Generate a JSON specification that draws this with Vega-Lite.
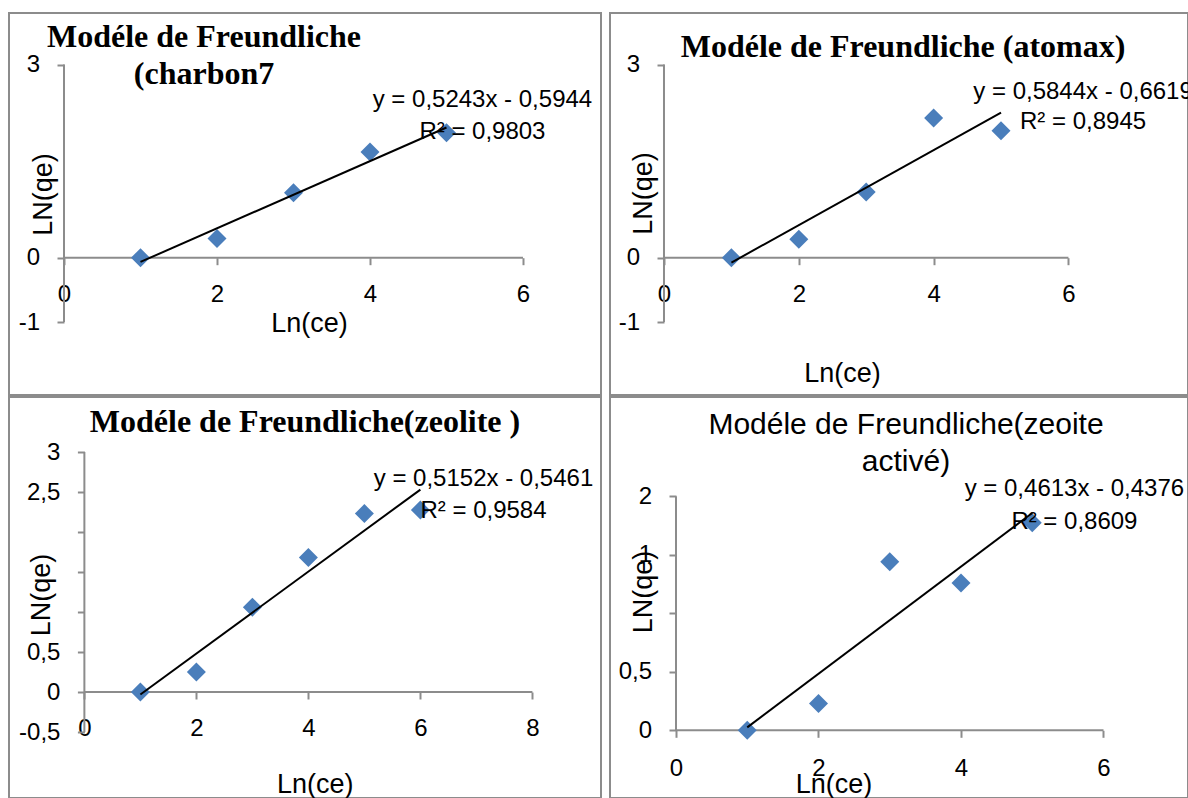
{
  "$schema": "https://vega.github.io/schema/vega-lite/v6.json",
  "padding": {"left": 8, "top": 12, "right": 0, "bottom": 0},
  "background": "white",
  "datasets": {
    "charbon7": [{"x": 1, "y": 0}, {"x": 2, "y": 0.30}, {"x": 3, "y": 1.01}, {"x": 4, "y": 1.64}, {"x": 5, "y": 1.94}],
    "atomax": [{"x": 1, "y": 0}, {"x": 2, "y": 0.285}, {"x": 3, "y": 1.02}, {"x": 4, "y": 2.17}, {"x": 5, "y": 1.97}],
    "zeolite": [{"x": 1, "y": 0}, {"x": 2, "y": 0.25}, {"x": 3, "y": 1.06}, {"x": 4, "y": 1.68}, {"x": 5, "y": 2.23}, {"x": 6, "y": 2.275}],
    "zeolite_active": [{"x": 1, "y": 0}, {"x": 2, "y": 0.23}, {"x": 3, "y": 1.44}, {"x": 4, "y": 1.26}, {"x": 5, "y": 1.775}],
    "one": [{}]
  },
  "bounds": "flush",
  "columns": 2,
  "spacing": {"row": 2, "column": 9},
  "concat": [
    {
      "width": 592, "height": 382,
      "title": {"text": ["Modéle de Freundliche", "(charbon7"], "font": "Liberation Serif", "fontWeight": "bold", "fontSize": 32, "lineHeight": 37, "anchor": "start", "align": "center", "dx": 195, "frame": "group", "offset": -103, "baseline": "alphabetic", "color": "black"},
      "layer": [
        {"data": {"name": "one"}, "mark": {"type": "rule", "color": "#8c8c8c", "strokeWidth": 2}, "encoding": {"x": {"datum": 0, "type": "quantitative"}, "y": {"datum": -1, "type": "quantitative"}, "y2": {"datum": 3}}},
        {"data": {"name": "one"}, "mark": {"type": "rule", "color": "#8c8c8c", "strokeWidth": 2}, "encoding": {"x": {"datum": 0, "type": "quantitative"}, "x2": {"datum": 6}, "y": {"datum": 0, "type": "quantitative"}}},
        {"data": {"name": "charbon7"}, "mark": {"type": "point", "shape": "diamond", "filled": true, "size": 361, "color": "#4a7ebb", "opacity": 1},
         "encoding": {
           "x": {"field": "x", "type": "quantitative", "scale": {"domain": [-0.719, 7.020], "nice": false, "zero": false},
                 "axis": {"values": [0, 2, 4, 6], "offset": -137.3, "title": "Ln(ce)", "titleX": 300, "titleY": 73.3, "labelPadding": 17.5, "labelExpr": "replace('' + datum.value, '.', ',')"}},
           "y": {"field": "y", "type": "quantitative", "scale": {"domain": [-2.132, 3.800], "nice": false, "zero": false},
                 "axis": {"values": [-1, 0, 3], "offset": -55, "title": "LN(qe)", "titleX": -12.4, "titleY": 181, "labelPadding": 17.5, "labelExpr": "replace('' + datum.value, '.', ',')"}}
         }},
        {"data": {"name": "charbon7"}, "transform": [{"regression": "y", "on": "x"}], "mark": {"type": "line", "color": "black", "strokeWidth": 2},
         "encoding": {"x": {"field": "x", "type": "quantitative"}, "y": {"field": "y", "type": "quantitative"}}},
        {"data": {"name": "one"}, "mark": {"type": "text", "text": ["y = 0,5243x - 0,5944", "R² = 0,9803"], "font": "Liberation Sans", "fontSize": 24, "align": "center", "baseline": "alphabetic", "lineHeight": 32, "color": "black"},
         "encoding": {"x": {"datum": 5.47, "type": "quantitative"}, "y": {"datum": 2.34, "type": "quantitative"}}}
      ]
    },
    {
      "width": 578, "height": 382,
      "title": {"text": "Modéle de Freundliche (atomax)", "font": "Liberation Serif", "fontWeight": "bold", "fontSize": 32, "anchor": "middle", "dx": 4, "frame": "group", "offset": -76, "baseline": "alphabetic", "color": "black"},
      "layer": [
        {"data": {"name": "one"}, "mark": {"type": "rule", "color": "#8c8c8c", "strokeWidth": 2}, "encoding": {"x": {"datum": 0, "type": "quantitative"}, "y": {"datum": -1, "type": "quantitative"}, "y2": {"datum": 3}}},
        {"data": {"name": "one"}, "mark": {"type": "rule", "color": "#8c8c8c", "strokeWidth": 2}, "encoding": {"x": {"datum": 0, "type": "quantitative"}, "x2": {"datum": 6}, "y": {"datum": 0, "type": "quantitative"}}},
        {"data": {"name": "atomax"}, "mark": {"type": "point", "shape": "diamond", "filled": true, "size": 361, "color": "#4a7ebb", "opacity": 1},
         "encoding": {
           "x": {"field": "x", "type": "quantitative", "scale": {"domain": [-0.801, 7.774], "nice": false, "zero": false},
                 "axis": {"values": [0, 2, 4, 6], "offset": -137.3, "title": "Ln(ce)", "titleX": 232, "titleY": 123.3, "labelPadding": 17.5, "labelExpr": "replace('' + datum.value, '.', ',')"}},
           "y": {"field": "y", "type": "quantitative", "scale": {"domain": [-2.132, 3.800], "nice": false, "zero": false},
                 "axis": {"values": [-1, 0, 3], "offset": -54, "title": "LN(qe)", "titleX": -13, "titleY": 180, "labelPadding": 17.5, "labelExpr": "replace('' + datum.value, '.', ',')"}}
         }},
        {"data": {"name": "atomax"}, "transform": [{"regression": "y", "on": "x"}], "mark": {"type": "line", "color": "black", "strokeWidth": 2},
         "encoding": {"x": {"field": "x", "type": "quantitative"}, "y": {"field": "y", "type": "quantitative"}}},
        {"data": {"name": "one"}, "mark": {"type": "text", "text": ["y = 0,5844x - 0,6619", "R² = 0,8945"], "font": "Liberation Sans", "fontSize": 24, "align": "center", "baseline": "alphabetic", "lineHeight": 30, "color": "black", "clip": true},
         "encoding": {"x": {"datum": 6.217, "type": "quantitative"}, "y": {"datum": 2.464, "type": "quantitative"}}}
      ]
    },
    {
      "width": 592, "height": 401,
      "title": {"text": "Modéle de Freundliche(zeolite )", "font": "Liberation Serif", "fontWeight": "bold", "fontSize": 32, "anchor": "middle", "frame": "group", "offset": -67, "baseline": "alphabetic", "color": "black"},
      "layer": [
        {"data": {"name": "one"}, "mark": {"type": "rule", "color": "#8c8c8c", "strokeWidth": 2}, "encoding": {"x": {"datum": 0, "type": "quantitative"}, "y": {"datum": -0.5, "type": "quantitative"}, "y2": {"datum": 3}}},
        {"data": {"name": "one"}, "mark": {"type": "rule", "color": "#8c8c8c", "strokeWidth": 2}, "encoding": {"x": {"datum": 0, "type": "quantitative"}, "x2": {"datum": 8}, "y": {"datum": 0, "type": "quantitative"}}},
        {"data": {"name": "zeolite"}, "mark": {"type": "point", "shape": "diamond", "filled": true, "size": 361, "color": "#4a7ebb", "opacity": 1},
         "encoding": {
           "x": {"field": "x", "type": "quantitative", "scale": {"domain": [-1.346, 9.225], "nice": false, "zero": false},
                 "axis": {"values": [0, 2, 4, 6, 8], "offset": -106, "title": "Ln(ce)", "titleX": 305.8, "titleY": 100, "labelPadding": 17.2, "labelExpr": "replace('' + datum.value, '.', ',')"}},
           "y": {"field": "y", "type": "quantitative", "scale": {"domain": [-1.325, 3.6875], "nice": false, "zero": false},
                 "axis": {"values": [-0.5, 0, 0.5, 1, 1.5, 2, 2.5, 3], "offset": -75.4, "title": "LN(qe)", "titleX": -34.7, "titleY": 197.5, "labelPadding": 17.5, "labelExpr": "datum.value == 1 || datum.value == 1.5 || datum.value == 2 ? '' : replace('' + datum.value, '.', ',')"}}
         }},
        {"data": {"name": "zeolite"}, "transform": [{"regression": "y", "on": "x"}], "mark": {"type": "line", "color": "black", "strokeWidth": 2},
         "encoding": {"x": {"field": "x", "type": "quantitative"}, "y": {"field": "y", "type": "quantitative"}}},
        {"data": {"name": "one"}, "mark": {"type": "text", "text": ["y = 0,5152x - 0,5461", "R² = 0,9584"], "font": "Liberation Sans", "fontSize": 24, "align": "center", "baseline": "alphabetic", "lineHeight": 32, "color": "black"},
         "encoding": {"x": {"datum": 7.127, "type": "quantitative"}, "y": {"datum": 2.575, "type": "quantitative"}}}
      ]
    },
    {
      "width": 578, "height": 401,
      "title": {"text": ["Modéle de Freundliche(zeoite", "activé)"], "font": "Liberation Sans", "fontWeight": "normal", "fontSize": 30, "lineHeight": 37, "anchor": "middle", "dx": 7, "frame": "group", "offset": -103.7, "baseline": "alphabetic", "color": "black"},
      "layer": [
        {"data": {"name": "one"}, "mark": {"type": "rule", "color": "#8c8c8c", "strokeWidth": 2}, "encoding": {"x": {"datum": 0, "type": "quantitative"}, "y": {"datum": 0, "type": "quantitative"}, "y2": {"datum": 2}}},
        {"data": {"name": "one"}, "mark": {"type": "rule", "color": "#8c8c8c", "strokeWidth": 2}, "encoding": {"x": {"datum": 0, "type": "quantitative"}, "x2": {"datum": 6}, "y": {"datum": 0, "type": "quantitative"}}},
        {"data": {"name": "zeolite_active"}, "mark": {"type": "point", "shape": "diamond", "filled": true, "size": 361, "color": "#4a7ebb", "opacity": 1},
         "encoding": {
           "x": {"field": "x", "type": "quantitative", "scale": {"domain": [-0.926, 7.186], "nice": false, "zero": false},
                 "axis": {"values": [0, 2, 4, 6], "offset": -67.7, "title": "Ln(ce)", "titleX": 223.5, "titleY": 61.7, "labelPadding": 18.7, "labelExpr": "replace('' + datum.value, '.', ',')"}},
           "y": {"field": "y", "type": "quantitative", "scale": {"domain": [-0.5786, 2.849], "nice": false, "zero": false},
                 "axis": {"values": [0, 0.5, 1, 1.5, 2], "offset": -66, "title": "LN(qe)", "titleX": -25, "titleY": 194.5, "labelPadding": 17.5, "labelExpr": "datum.value == 1 ? '' : datum.value == 1.5 ? '1' : replace('' + datum.value, '.', ',')"}}
         }},
        {"data": {"name": "zeolite_active"}, "transform": [{"regression": "y", "on": "x"}], "mark": {"type": "line", "color": "black", "strokeWidth": 2},
         "encoding": {"x": {"field": "x", "type": "quantitative"}, "y": {"field": "y", "type": "quantitative"}}},
        {"data": {"name": "one"}, "mark": {"type": "text", "text": ["y = 0,4613x - 0,4376", "R² = 0,8609"], "font": "Liberation Sans", "fontSize": 24, "align": "center", "baseline": "alphabetic", "lineHeight": 33, "color": "black"},
         "encoding": {"x": {"datum": 5.592, "type": "quantitative"}, "y": {"datum": 2.0026, "type": "quantitative"}}}
      ]
    }
  ],
  "config": {
    "font": "Liberation Sans",
    "view": {"stroke": "#8c8c8c", "strokeWidth": 2},
    "axis": {
      "domain": false, "grid": false,
      "ticks": true, "tickColor": "#8c8c8c", "tickWidth": 2, "tickSize": 7,
      "labelFont": "Liberation Sans", "labelFontSize": 24, "labelColor": "black",
      "labelOverlap": false, "labelFlush": false, "labelBound": false,
      "titleFont": "Liberation Sans", "titleFontSize": 27, "titleFontWeight": "normal", "titleColor": "black",
      "titleAlign": "center", "titleBaseline": "alphabetic"
    }
  }
}
